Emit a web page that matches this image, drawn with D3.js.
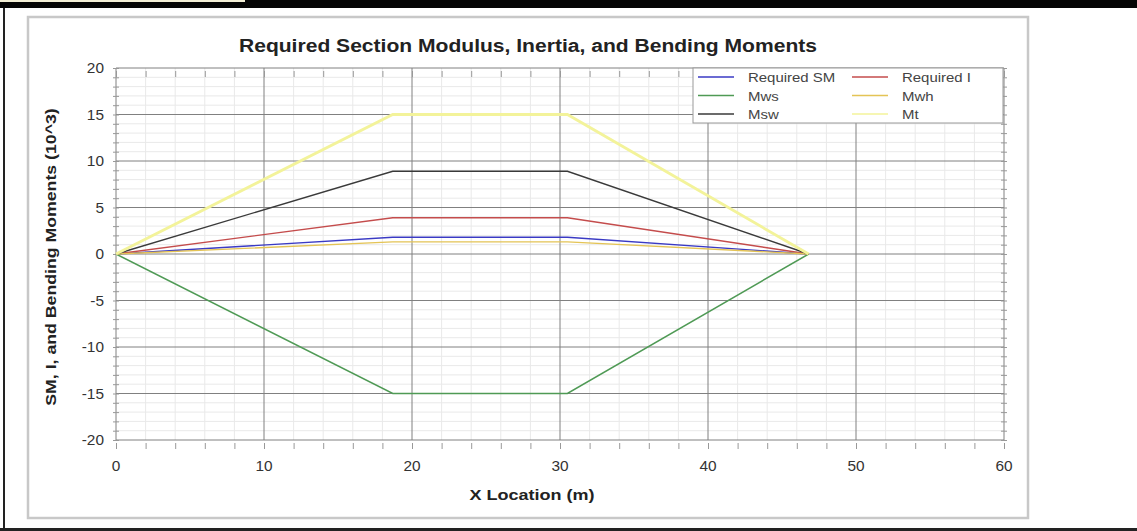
<!DOCTYPE html>
<html>
<head>
<meta charset="utf-8">
<script src="https://cdn.jsdelivr.net/npm/d3@7"></script>
<style>
  body { margin: 0; background: #fff; }
  svg { display: block; font-family: "Liberation Sans", Arial, sans-serif; }
</style>
</head>
<body>
<div id="chart"></div>
<script>
// x locations of the break points (m)
const xLoc = [0, 18.7, 30.5, 46.8];

// values in 10^3
const requiredSM = [0, 1.8, 1.8, 0];
const requiredI = [0, 3.9, 3.9, 0];
const mws = [0, -15, -15, 0];
const mwh = [0, 1.3, 1.3, 0];
const msw = [0, 8.9, 8.9, 0];
const mt = [0, 15, 15, 0];

const seriesNames = ['Required SM', 'Required I', 'Mws', 'Mwh', 'Msw', 'Mt'];
const seriesValues = [requiredSM, requiredI, mws, mwh, msw, mt];
const seriesColors = ['#3a3ac4', '#c44c4c', '#4f9a55', '#e4c456', '#3a3a3a', '#f3f39a'];
const seriesWidths = [1.4, 1.4, 1.5, 1.4, 1.4, 2.8];

const xTicks = [0, 10, 20, 30, 40, 50, 60];
const yTicks = [-20, -15, -10, -5, 0, 5, 10, 15, 20];

const width = 1137, height = 531;
const svg = d3.select('#chart').append('svg')
    .attr('width', width)
    .attr('height', height);

// the screenshot looks stretched sideways, so stretch text to match
function stretch(sel, factor) {
    sel.each(function() {
        const w = this.getComputedTextLength();
        d3.select(this).attr('textLength', w * factor).attr('lengthAdjust', 'spacingAndGlyphs');
    });
}

// screenshot frame bits
svg.append('rect').attr('x', 0).attr('y', 0).attr('width', width).attr('height', 8).attr('fill', '#050505');
svg.append('rect').attr('x', 0).attr('y', 0).attr('width', 245).attr('height', 2).attr('fill', '#f3efd6');
svg.append('rect').attr('x', 0).attr('y', 528).attr('width', width).attr('height', 3).attr('fill', '#222');
svg.append('rect').attr('x', 3).attr('y', 8).attr('width', 2).attr('height', 520).attr('fill', '#222');
svg.append('rect')
    .attr('x', 28).attr('y', 17).attr('width', 1000).attr('height', 501)
    .attr('fill', '#fff').attr('stroke', '#c8c8c8').attr('stroke-width', 2.5);

const x = d3.scaleLinear().domain([0, 60]).range([116, 1004]);
const y = d3.scaleLinear().domain([-20, 20]).range([440, 68]);

// minor grid
const g = svg.append('g');
g.selectAll('.xminor')
    .data(d3.range(0, 61, 2).filter(v => v % 10 !== 0))
    .enter().append('line')
    .attr('x1', d => x(d)).attr('x2', d => x(d))
    .attr('y1', y(20)).attr('y2', y(-20))
    .attr('stroke', '#e9e9e9');
g.selectAll('.yminor')
    .data(d3.range(-20, 21, 1).filter(v => v % 5 !== 0))
    .enter().append('line')
    .attr('x1', x(0)).attr('x2', x(60))
    .attr('y1', d => y(d)).attr('y2', d => y(d))
    .attr('stroke', '#e9e9e9');

// major grid
g.selectAll('.xmajor')
    .data(xTicks)
    .enter().append('line')
    .attr('x1', d => x(d)).attr('x2', d => x(d))
    .attr('y1', y(20)).attr('y2', y(-20))
    .attr('stroke', '#808080');
g.selectAll('.ymajor')
    .data(yTicks)
    .enter().append('line')
    .attr('x1', x(0)).attr('x2', x(60))
    .attr('y1', d => y(d)).attr('y2', d => y(d))
    .attr('stroke', '#808080');

// crossing minor ticks on all four sides
const tickStyle = sel => {
    sel.select('.domain').remove();
    sel.selectAll('.tick line').attr('stroke', '#999');
};
svg.append('g')
    .attr('transform', `translate(0,${y(-20) + 3})`)
    .call(d3.axisBottom(x).tickValues(d3.range(0, 61, 2)).tickSize(6).tickFormat(''))
    .call(tickStyle);
svg.append('g')
    .attr('transform', `translate(0,${y(20) + 3})`)
    .call(d3.axisBottom(x).tickValues(d3.range(0, 61, 2)).tickSize(6).tickFormat(''))
    .call(tickStyle);
svg.append('g')
    .attr('transform', `translate(${x(0) + 3},0)`)
    .call(d3.axisLeft(y).tickValues(d3.range(-20, 21, 1)).tickSize(6).tickFormat(''))
    .call(tickStyle);
svg.append('g')
    .attr('transform', `translate(${x(60) + 3},0)`)
    .call(d3.axisLeft(y).tickValues(d3.range(-20, 21, 1)).tickSize(6).tickFormat(''))
    .call(tickStyle);

// tick labels
svg.selectAll('.xlab')
    .data(xTicks)
    .enter().append('text')
    .attr('x', d => x(d)).attr('y', 471)
    .attr('text-anchor', 'middle')
    .attr('font-size', 14).attr('fill', '#333')
    .text(d => d)
    .call(stretch, 1.1);
svg.selectAll('.ylab')
    .data(yTicks)
    .enter().append('text')
    .attr('x', 104).attr('y', d => y(d) + 5)
    .attr('text-anchor', 'end')
    .attr('font-size', 14).attr('fill', '#333')
    .text(d => d)
    .call(stretch, 1.1);

// series
const line = d3.line().x((d, i) => x(xLoc[i])).y(d => y(d));
svg.selectAll('.series')
    .data(seriesValues)
    .enter().append('path')
    .attr('d', d => line(d))
    .attr('fill', 'none')
    .attr('stroke', (d, i) => seriesColors[i])
    .attr('stroke-width', (d, i) => seriesWidths[i]);

// legend
const legend = svg.append('g');
legend.append('rect')
    .attr('x', 693).attr('y', 68).attr('width', 310).attr('height', 55)
    .attr('fill', '#fff').attr('stroke', '#999');
seriesNames.forEach((name, i) => {
    const col = i % 2, row = Math.floor(i / 2);
    const lx = 698 + col * 154, ly = 77 + row * 18.5;
    legend.append('line')
        .attr('x1', lx).attr('x2', lx + 36)
        .attr('y1', ly).attr('y2', ly)
        .attr('stroke', seriesColors[i]).attr('stroke-width', 1.4);
    legend.append('text')
        .attr('x', lx + 50).attr('y', ly + 5)
        .attr('font-size', 13).attr('fill', '#444')
        .text(name)
        .call(stretch, 1.15);
});

// titles
svg.append('text')
    .attr('x', 528).attr('y', 52)
    .attr('text-anchor', 'middle')
    .attr('font-size', 18).attr('font-weight', 'bold').attr('fill', '#222')
    .text('Required Section Modulus, Inertia, and Bending Moments')
    .call(stretch, 1.17);
svg.append('text')
    .attr('x', 532).attr('y', 500)
    .attr('text-anchor', 'middle')
    .attr('font-size', 15).attr('font-weight', 'bold').attr('fill', '#222')
    .text('X Location (m)')
    .call(stretch, 1.2);
svg.append('text')
    .attr('transform', `translate(56,257) rotate(-90)`)
    .attr('text-anchor', 'middle')
    .attr('font-size', 15).attr('font-weight', 'bold').attr('fill', '#222')
    .text('SM, I, and Bending Moments (10^3)')
    .call(stretch, 1.18);
</script>
</body>
</html>
